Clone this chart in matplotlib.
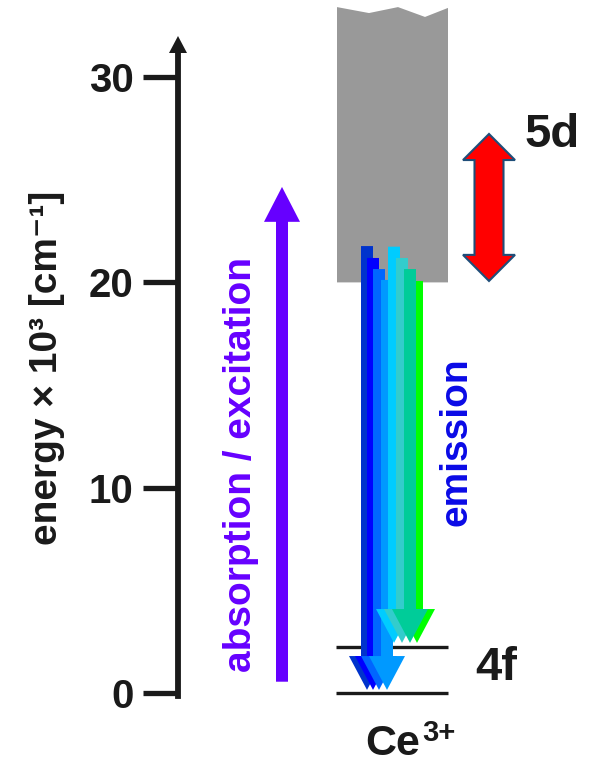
import numpy as np
import matplotlib.pyplot as plt
from matplotlib.patches import Polygon

FONT = 'Liberation Sans'
INK = '#1a1a1a'

# data (energies in 10^3 cm^-1)
yticks = [0, 10, 20, 30]
ytick_labels = ['0', '10', '20', '30']
levels_4f = [0.0, 2.24]            # 4f ground state levels
band_5d_bottom = 20.0              # lower edge of the 5d band
band_top_edge = [33.41, 33.12, 33.41, 32.93, 33.37]  # broken top of the band
absorption = (0.55, 24.65)         # start, end of excitation arrow
split_5d = (20.07, 27.23)          # red double arrow
emission_top = [21.77, 21.19, 20.65, 20.12, 21.74, 21.19, 20.65, 20.07]
emission_end = [0.15, 0.15, 0.15, 0.15, 2.44, 2.44, 2.44, 2.44]
emission_colors = ['#0033cc', '#0000ff', '#0066ff', '#0099ff',
                   '#00ccff', '#33cccc', '#00cc99', '#00ff00']

PX = 20.53  # pixels per energy unit


def E(py):
    # pixel row -> energy
    return (693 - py) / PX


def down_arrow(xc, top, tip, w, hw, hl):
    return [(xc - w, top), (xc + w, top), (xc + w, tip + hl), (xc + hw, tip + hl),
            (xc, tip), (xc - hw, tip + hl), (xc - w, tip + hl)]


def up_arrow(xc, bottom, tip, w, hw, hl):
    return [(xc - w, bottom), (xc + w, bottom), (xc + w, tip - hl), (xc + hw, tip - hl),
            (xc, tip), (xc - hw, tip - hl), (xc - w, tip - hl)]


fig = plt.figure(figsize=(5.94, 7.66), dpi=100)
ax = fig.add_axes([0, 0, 1, 1])
ax.set_xlim(0, 594)
ax.set_ylim(E(766), E(0))

# energy axis
for s in ['top', 'right', 'bottom']:
    ax.spines[s].set_visible(False)
ax.spines['left'].set_position(('data', 178))
ax.spines['left'].set_bounds(-0.15, E(50))
ax.spines['left'].set_linewidth(4.2)
ax.spines['left'].set_color(INK)
ax.set_xticks([])
ax.set_yticks(yticks)
ax.set_yticklabels(ytick_labels, family=FONT, weight='bold', size=29, color=INK)
ax.tick_params(axis='y', length=25, width=3.8, color=INK, pad=7)
ax.add_patch(Polygon([(169, E(53)), (187, E(53)), (178, E(36))], closed=True,
                     facecolor=INK, edgecolor='none', clip_on=False))
ax.text(47, E(368), 'energy × 10³ [cm⁻¹]', rotation=90, ha='center', va='center',
        family=[FONT, 'DejaVu Sans'], weight='bold', size=28, color=INK)

# 5d band
xs = [337, 369, 398, 425, 448]
band = [(337, band_5d_bottom), (448, band_5d_bottom)] + \
       [(x, y) for x, y in zip(xs[::-1], band_top_edge[::-1])]
ax.add_patch(Polygon(band, closed=True, facecolor='#999999', edgecolor='none', zorder=1))

# 4f levels
for lv in levels_4f:
    ax.plot([336, 448], [lv, lv], color=INK, lw=2.4, solid_capstyle='butt', zorder=2)

# absorption arrow
ax.add_patch(Polygon(up_arrow(282, absorption[0], absorption[1], 6, 18, 1.7),
                     closed=True, facecolor='#6600ff', edgecolor='none', zorder=3))
ax.text(241, E(465), 'absorption / excitation', rotation=90, ha='center', va='center',
        family=FONT, weight='bold', size=28, color='#6600ff')

# emission arrows
centers = [367, 373, 379, 387, 394, 402, 410, 417]
order = [0, 1, 2, 3, 7, 4, 5, 6]
for i in order:
    ax.add_patch(Polygon(down_arrow(centers[i], emission_top[i], emission_end[i], 6, 18, 1.65),
                         closed=True, facecolor=emission_colors[i], edgecolor='none', zorder=4))
ax.text(456, E(442), 'emission', rotation=90, ha='center', va='center',
        family=FONT, weight='bold', size=28, color='#0a0ae6')

# 5d splitting
lo, hi = split_5d
red = [(489, hi), (515, hi - 1.27), (503.5, hi - 1.27), (503.5, lo + 1.27), (515, lo + 1.27),
       (489, lo), (463, lo + 1.27), (474.5, lo + 1.27), (474.5, hi - 1.27), (463, hi - 1.27)]
ax.add_patch(Polygon(red, closed=True, facecolor='#ff0000', edgecolor='#1f4e79', lw=1.5, zorder=3))

# labels
ax.text(552, E(135), '5d', ha='center', va='center', family=FONT, weight='bold', size=34, color=INK)
ax.text(496, E(668), '4f', ha='center', va='center', family=FONT, weight='bold', size=34, color=INK)
ax.text(365, E(755), 'Ce', ha='left', va='baseline', family=FONT, weight='bold', size=31, color=INK)
ax.text(422, E(741), '3+', ha='left', va='baseline', family=FONT, weight='bold', size=21, color=INK)

fig.savefig('out.png', dpi=100)
